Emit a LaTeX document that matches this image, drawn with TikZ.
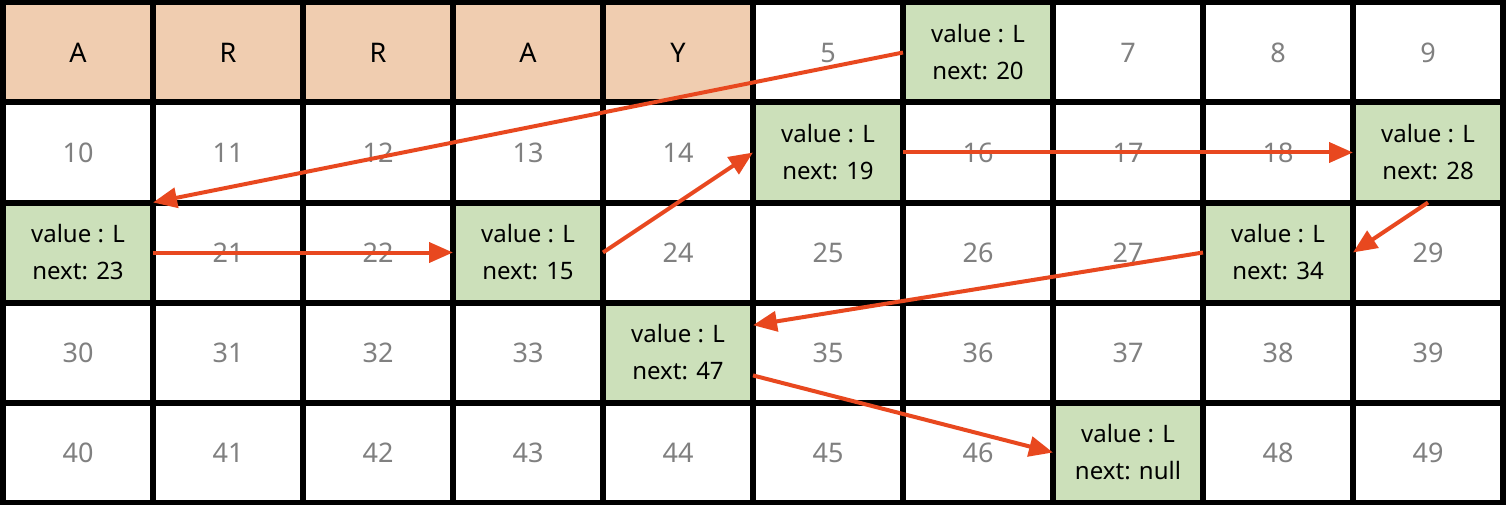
\documentclass[tikz,border=0pt]{standalone}
\usepackage{fontspec}
\setmainfont{Noto Sans}
\usetikzlibrary{arrows.meta}
\definecolor{peach}{HTML}{F0CDB0}
\definecolor{leaf}{HTML}{CCE0BA}
\definecolor{numgray}{HTML}{808080}
\definecolor{arrowred}{HTML}{E8481F}
\begin{document}
\begin{tikzpicture}[x=1pt,y=-1pt,
  cellbox/.style={minimum width=150pt,minimum height=100pt,inner sep=0pt,outer sep=0pt,anchor=center},
  numcell/.style={cellbox,fill=white,text=numgray,font=\fontsize{27}{30}\selectfont},
  headcell/.style={cellbox,fill=peach,text=black,font=\fontsize{27}{30}\selectfont},
  listcell/.style={cellbox,fill=leaf,text=black,align=center,font=\fontsize{24}{37}\selectfont},
  gridline/.style={line width=6pt,black},
  link/.style={line width=4pt,arrowred,-{Triangle[length=24pt,width=20pt]}}]
\useasboundingbox (0,0) rectangle (1506,505);
\fill[white] (0,0) rectangle (1506,505);
% header cells
\foreach \c/\t in {0/A,1/R,2/R,3/A,4/Y}{
  \node[headcell] (c\c) at ({78+150*\c},52.5) {\t};
}
% numbered cells
\foreach \i in {5,7,8,9,10,11,12,13,14,16,17,18,21,22,24,25,26,27,29,30,31,32,33,35,36,37,38,39,40,41,42,43,44,45,46,48,49}{
  \pgfmathtruncatemacro{\r}{int(\i/10)}
  \pgfmathtruncatemacro{\c}{mod(\i,10)}
  \node[numcell] (c\i) at ({78+150*\c},{52.5+100*\r}) {\i};
}
% linked-list cells
\foreach \i/\n in {6/20,20/23,23/15,15/19,19/28,28/34,34/47,47/null}{
  \pgfmathtruncatemacro{\r}{int(\i/10)}
  \pgfmathtruncatemacro{\c}{mod(\i,10)}
  \node[listcell] (c\i) at ({78+150*\c},{52.5+100*\r}) {value : L\\next: \n};
}
% grid
\foreach \k in {0,...,10}{
  \draw[gridline] ({3+150*\k},0) -- ({3+150*\k},505);
}
\foreach \k in {0,...,5}{
  \draw[gridline] (0,{2.5+100*\k}) -- (1506,{2.5+100*\k});
}
% links
\draw[link] (c6.west) -- (c20.north east);
\draw[link] (c20.east) -- (c23.west);
\draw[link] (c23.east) -- (c15.west);
\draw[link] (c15.east) -- (c19.west);
\draw[link] (c19.south) -- (c28.east);
\draw[link] (c28.west) -- (c34.20);
\draw[link] (c34.-17) -- (c47.west);
\end{tikzpicture}
\end{document}
